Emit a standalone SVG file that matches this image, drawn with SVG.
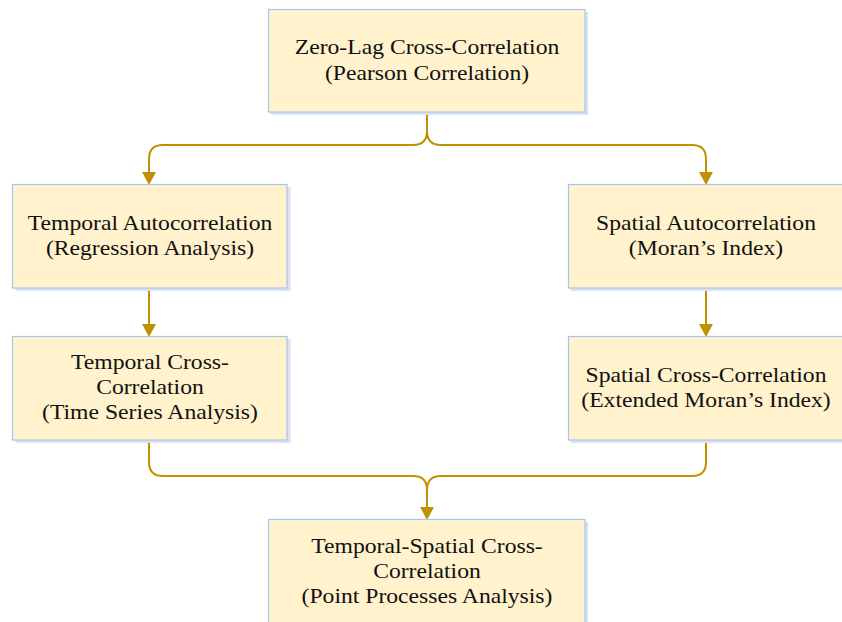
<svg xmlns="http://www.w3.org/2000/svg" width="842" height="622" viewBox="0 0 842 622">
<defs>
<style>
.box{fill:#fff2cc;stroke:#a9c4eb;stroke-width:1.2}
.sh{fill:#d9e2f1}
.t{font-family:"Liberation Serif","Times New Roman",serif;font-size:21.5px;fill:#111;text-anchor:middle}
.c{fill:none;stroke:#bf9000;stroke-width:2}
</style>
<marker id="arr" markerUnits="userSpaceOnUse" markerWidth="13" markerHeight="14" refX="0" refY="6.5" orient="auto" viewBox="0 0 12 13">
<path d="M0,0 L12,6.5 L0,13 z" fill="#bf9000"/>
</marker>
</defs>
<rect width="842" height="622" fill="#fff"/>
<g id="connectors">
<path class="c" d="M427,112 V131 Q427,145 413,145 H163 Q149,145 149,159 V172" marker-end="url(#arr)"/>
<path class="c" d="M427,131 Q427,145 441,145 H692 Q706,145 706,159 V172" marker-end="url(#arr)"/>
<path class="c" d="M149,288 V324" marker-end="url(#arr)"/>
<path class="c" d="M706,288 V324" marker-end="url(#arr)"/>
<path class="c" d="M149,440 V462 Q149,476 163,476 H413 Q427,476 427,490 V507" marker-end="url(#arr)"/>
<path class="c" d="M706,440 V462 Q706,476 692,476 H441 Q427,476 427,490"/>
</g>
<g id="n-zero-lag">
<rect class="sh" x="271" y="12" width="317" height="103"/>
<rect class="box" x="268.5" y="9.5" width="316.5" height="102.5"/>
<text class="t" transform="translate(427 0) scale(1.1 1)"><tspan x="0" y="54">Zero-Lag Cross-Correlation</tspan><tspan x="0" y="80">(Pearson Correlation)</tspan></text>
</g>
<g id="n-temporal-auto">
<rect class="sh" x="15.5" y="187" width="275" height="104"/>
<rect class="box" x="12.5" y="184.5" width="274.5" height="103.5"/>
<text class="t" transform="translate(150 0) scale(1.1 1)"><tspan x="0" y="230">Temporal Autocorrelation</tspan><tspan x="0" y="255">(Regression Analysis)</tspan></text>
</g>
<g id="n-spatial-auto">
<rect class="sh" x="571" y="187" width="275" height="104"/>
<rect class="box" x="568.5" y="184.5" width="275" height="103.5"/>
<text class="t" transform="translate(706 0) scale(1.1 1)"><tspan x="0" y="230">Spatial Autocorrelation</tspan><tspan x="0" y="255">(Moran’s Index)</tspan></text>
</g>
<g id="n-temporal-cross">
<rect class="sh" x="15.5" y="339" width="275" height="104"/>
<rect class="box" x="12.5" y="336.5" width="274.5" height="103.5"/>
<text class="t" transform="translate(150 0) scale(1.1 1)"><tspan x="0" y="369">Temporal Cross-</tspan><tspan x="0" y="394">Correlation</tspan><tspan x="0" y="419">(Time Series Analysis)</tspan></text>
</g>
<g id="n-spatial-cross">
<rect class="sh" x="571" y="339" width="275" height="104"/>
<rect class="box" x="568.5" y="336.5" width="275" height="103.5"/>
<text class="t" transform="translate(706 0) scale(1.1 1)"><tspan x="0" y="382">Spatial Cross-Correlation</tspan><tspan x="0" y="407">(Extended Moran’s Index)</tspan></text>
</g>
<g id="n-temporal-spatial">
<rect class="sh" x="271" y="522" width="317" height="110"/>
<rect class="box" x="268.5" y="519.5" width="316.5" height="110"/>
<text class="t" transform="translate(427 0) scale(1.1 1)"><tspan x="0" y="553">Temporal-Spatial Cross-</tspan><tspan x="0" y="578">Correlation</tspan><tspan x="0" y="603">(Point Processes Analysis)</tspan></text>
</g>
</svg>
